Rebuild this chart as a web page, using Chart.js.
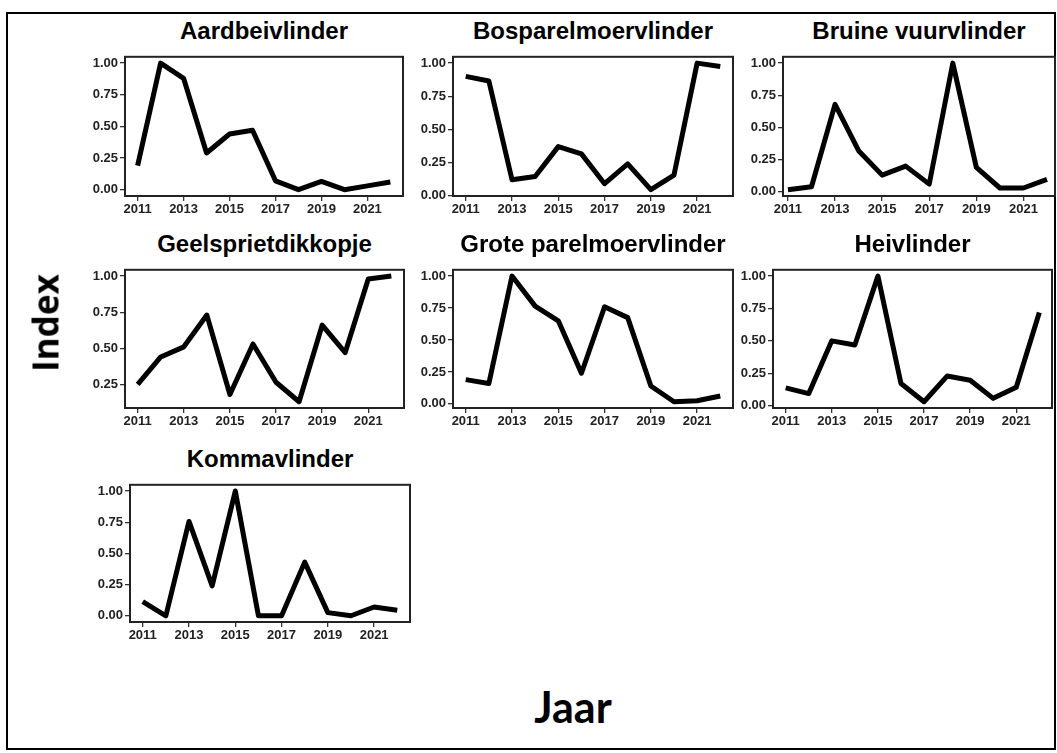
<script src="https://cdn.jsdelivr.net/npm/chart.js"></script>
<style>
    body {
        margin: 0;
        padding: 0;
        background-color: #fff;
        font-family: Arial, sans-serif;
    }
    #frame {
        position: absolute;
        left: 6px;
        top: 12px;
        width: 1050px;
        height: 738px;
        border: 2px solid #000;
        box-sizing: border-box;
    }
    .panel-title {
        position: absolute;
        font: bold 24px Arial, "Liberation Sans", sans-serif;
        line-height: 24px;
        color: #000;
        text-align: center;
        white-space: nowrap;
    }
    canvas {
        position: absolute;
    }
    .axis-label {
        position: absolute;
        font-weight: bold;
        color: #000;
        white-space: nowrap;
    }
</style>

<div id="frame"></div>
<div id="charts"></div>
<div class="axis-label" id="ylab">Index</div>
<div class="axis-label" id="xlab">Jaar</div>

<script>
    // years and tick labels
    const years = [2011, 2012, 2013, 2014, 2015, 2016, 2017, 2018, 2019, 2020, 2021, 2022];
    const yearTicks = [2011, 2013, 2015, 2017, 2019, 2021];
    const indexTicks = [0, 0.25, 0.5, 0.75, 1];

    const speciesNames = ['Aardbeivlinder', 'Bosparelmoervlinder', 'Bruine vuurvlinder',
        'Geelsprietdikkopje', 'Grote parelmoervlinder', 'Heivlinder', 'Kommavlinder'];

    // index values per species
    const aardbeivlinder      = [0.19, 1.00, 0.88, 0.29, 0.44, 0.47, 0.07, 0.00, 0.065, 0.00, 0.03, 0.06];
    const bosparelmoervlinder = [0.90, 0.865, 0.12, 0.145, 0.37, 0.315, 0.09, 0.24, 0.045, 0.155, 1.00, 0.975];
    const bruineVuurvlinder   = [0.017, 0.04, 0.68, 0.32, 0.13, 0.20, 0.06, 1.00, 0.19, 0.03, 0.03, 0.097];
    const geelsprietdikkopje  = [0.25, 0.44, 0.51, 0.73, 0.18, 0.53, 0.265, 0.13, 0.66, 0.47, 0.98, 1.00];
    const groteParelmoer      = [0.19, 0.16, 1.00, 0.765, 0.65, 0.24, 0.76, 0.675, 0.14, 0.017, 0.025, 0.062];
    const heivlinder          = [0.137, 0.093, 0.50, 0.468, 1.00, 0.17, 0.03, 0.228, 0.196, 0.056, 0.142, 0.718];
    const kommavlinder        = [0.113, 0.00, 0.756, 0.24, 1.00, 0.00, 0.00, 0.43, 0.025, 0.00, 0.07, 0.045];

    const seriesList = [aardbeivlinder, bosparelmoervlinder, bruineVuurvlinder,
        geelsprietdikkopje, groteParelmoer, heivlinder, kommavlinder];

    // plot box of each panel in page pixels (l, t, r, b) and x padding in years
    const boxes = [
        { l: 125, t: 50, r: 403, b: 196, padL: 0.55, padR: 0.55 },
        { l: 453, t: 50, r: 733, b: 196, padL: 0.55, padR: 0.55 },
        { l: 783, t: 50, r: 1055, b: 196, padL: 0.21, padR: 0.34 },
        { l: 125, t: 263, r: 404, b: 408, padL: 0.55, padR: 0.55 },
        { l: 453, t: 263, r: 733, b: 408, padL: 0.55, padR: 0.55 },
        { l: 773, t: 263, r: 1052, b: 408, padL: 0.55, padR: 0.55 },
        { l: 130, t: 478, r: 410, b: 622, padL: 0.55, padR: 0.55 }
    ];

    const Y_AXIS_W = 60;
    const X_AXIS_H = 26;
    const PAD_TOP = 3;
    const PAD_RIGHT = 6;

    // black frame round the plot area
    const panelBorder = {
        id: 'panelBorder',
        afterDraw(chart) {
            const a = chart.chartArea;
            const ctx = chart.ctx;
            ctx.save();
            ctx.strokeStyle = '#222';
            ctx.lineWidth = 2;
            ctx.strokeRect(a.left, a.top, a.right - a.left, a.bottom - a.top);
            ctx.restore();
        }
    };

    const container = document.getElementById('charts');
    const tickFont = { family: 'Arial, "Liberation Sans", sans-serif', size: 13, weight: 'bold' };

    speciesNames.forEach((name, i) => {
        const box = boxes[i];
        const values = seriesList[i];

        // panel title
        const title = document.createElement('div');
        title.className = 'panel-title';
        title.textContent = name;
        title.style.left = (box.l - 40) + 'px';
        title.style.width = (box.r - box.l + 80) + 'px';
        title.style.top = (box.t - 31) + 'px';
        container.appendChild(title);

        // canvas
        const canvas = document.createElement('canvas');
        const w = box.r - box.l + Y_AXIS_W + PAD_RIGHT;
        const h = box.b - box.t + PAD_TOP + X_AXIS_H;
        canvas.width = w;
        canvas.height = h;
        canvas.style.width = w + 'px';
        canvas.style.height = h + 'px';
        canvas.style.left = (box.l - Y_AXIS_W) + 'px';
        canvas.style.top = (box.t - PAD_TOP) + 'px';
        container.appendChild(canvas);

        // free y scale with 5% expansion like ggplot
        const lo = Math.min(...values);
        const hi = Math.max(...values);
        const ext = (hi - lo) * 0.05;

        new Chart(canvas.getContext('2d'), {
            type: 'line',
            data: {
                datasets: [{
                    data: years.map((yr, k) => ({ x: yr, y: values[k] })),
                    borderColor: '#000',
                    borderWidth: 5,
                    borderJoinStyle: 'round',
                    borderCapStyle: 'butt',
                    pointRadius: 0,
                    tension: 0,
                    clip: false
                }]
            },
            options: {
                responsive: false,
                animation: false,
                layout: { padding: { top: PAD_TOP, right: PAD_RIGHT, left: 0, bottom: 0 } },
                plugins: {
                    legend: { display: false },
                    tooltip: { enabled: false }
                },
                scales: {
                    x: {
                        type: 'linear',
                        min: years[0] - box.padL,
                        max: years[years.length - 1] + box.padR,
                        afterBuildTicks: axis => { axis.ticks = yearTicks.map(v => ({ value: v })); },
                        afterFit: axis => { axis.height = X_AXIS_H; },
                        border: { display: false },
                        grid: { drawOnChartArea: false, drawTicks: true, tickLength: 5, color: '#333', lineWidth: 1.3 },
                        ticks: { color: '#222', font: tickFont, padding: 1, maxRotation: 0, autoSkip: false,
                            callback: v => String(v) }
                    },
                    y: {
                        min: lo - ext,
                        max: hi + ext,
                        afterBuildTicks: axis => {
                            axis.ticks = indexTicks.filter(v => v >= lo - ext && v <= hi + ext).map(v => ({ value: v }));
                        },
                        afterFit: axis => { axis.width = Y_AXIS_W; },
                        border: { display: false },
                        grid: { drawOnChartArea: false, drawTicks: true, tickLength: 5, color: '#333', lineWidth: 1.3 },
                        ticks: { color: '#222', font: tickFont, padding: 2, autoSkip: false,
                            callback: v => v.toFixed(2) }
                    }
                }
            },
            plugins: [panelBorder]
        });
    });

    // shared axis labels
    const ylab = document.getElementById('ylab');
    ylab.style.font = 'bold 35px "Open Sans", Lato, sans-serif';
    ylab.style.left = '45px';
    ylab.style.top = '323px';
    ylab.style.transform = 'translate(-50%, -50%) rotate(-90deg)';

    const xlab = document.getElementById('xlab');
    xlab.style.font = 'bold 43px Lato, "Open Sans", sans-serif';
    xlab.style.left = '573px';
    xlab.style.top = '706px';
    xlab.style.transform = 'translate(-50%, -50%)';
</script>
